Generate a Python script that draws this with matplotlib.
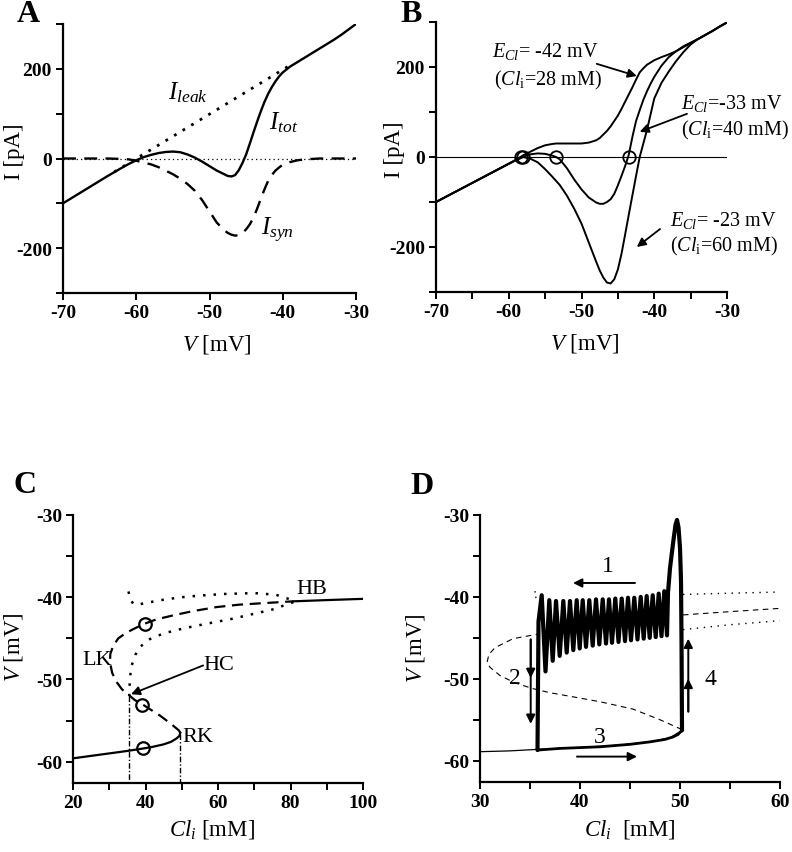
import matplotlib
matplotlib.use('Agg')
import matplotlib.pyplot as plt

plt.rcParams['font.family'] = ['Liberation Serif', 'DejaVu Serif']
plt.rcParams['mathtext.fontset'] = 'custom'
plt.rcParams['mathtext.rm'] = 'Liberation Serif'
plt.rcParams['mathtext.it'] = 'Liberation Serif:italic'
plt.rcParams['mathtext.bf'] = 'Liberation Serif:bold'
plt.rcParams['axes.unicode_minus'] = False

# ---------------- Panel A data ----------------
a_v = [-70, -68, -66, -64, -62, -61, -60, -59, -58, -57, -56, -55, -54, -53, -52, -51, -50,
       -49, -48, -47.5, -47, -46.5, -46, -45.5, -45, -44.5, -44, -43.5, -43, -42.5, -42,
       -41.5, -41, -40.5, -40, -39, -38, -37, -36, -35, -34, -33, -32, -31, -30]
a_tot = [-100, -80, -60, -40, -21, -12, -4, 3, 8, 12, 14.5, 15.5, 14, 9, 2, -7, -17,
         -27, -35, -39, -40, -37, -26, -10, 9, 33, 58, 82, 105, 126, 144,
         159, 172, 183, 192, 205, 215, 225, 235, 245, 255, 265, 276, 288, 300]
a_syn = [0, 0, 0, 0, -1, -2, -5, -9, -13, -19, -27, -35, -45, -57, -72, -93, -118,
         -143, -160, -166, -170, -172, -171, -166, -158, -147, -132, -112, -90, -69, -50,
         -37, -27, -20, -14, -8, -4, -2, -1, 0, 0, 0, 0, 0, 0]
a_leak_v = [-63, -38.5]
a_leak_i = [-30, 213]

# ---------------- Panel B data ----------------
b_v = [-70, -68, -66, -64, -62, -60, -59, -58, -57, -56, -55, -54, -53.5, -53, -52, -51, -50,
       -49, -48, -47.5, -47, -46.5, -46, -45.5, -45, -44.5, -44, -43.5, -43, -42.5, -42,
       -41.5, -41, -40.5, -40, -39, -38, -37, -36, -35, -34, -33, -32, -31, -30]
b_i28 = [-100, -83, -66, -49, -32, -15, -6, 4, 12, 20, 26, 29, 30, 30, 30, 30, 30,
         32, 37, 42, 50, 58, 68, 80, 92, 107, 123, 139, 155, 172, 188,
         197, 205, 210, 215, 222, 228, 235, 244, 253, 262, 271, 280, 290, 299]
b_i40 = [-100, -83, -66, -49, -32, -15, -7, 1, 6, 8, 7, 3, 0, -5, -25, -50, -72,
         -90, -101, -104, -104, -100, -94, -82, -63, -42, -20, 5, 45, 80, 104,
         127, 146, 163, 178, 203, 222, 235, 246, 254, 262, 271, 280, 290, 299]
b_i60 = [-100, -83, -66, -49, -32, -15, -7, 0, -4, -12, -27, -44, -53, -62, -86, -115, -148,
         -190, -232, -252, -268, -279, -281, -272, -250, -215, -172, -128, -85, -42, 0,
         30, 60, 95, 130, 165, 190, 213, 233, 250, 262, 271, 280, 290, 299]
b_fix_v = [-58.3, -58.1, -53.5, -43.5]
b_fix_i = [0, 0, 0, 0]

# ---------------- Panel C data ----------------
c_low_cl = [20, 25, 30, 35, 39.4, 42, 45, 47, 48.5, 49.3, 49.6]
c_low_v = [-59.6, -59.3, -59.0, -58.7, -58.4, -58.2, -57.9, -57.6, -57.2, -56.9, -56.5]
c_mid_cl = [49.6, 49.2, 47, 44, 41.5, 39.4, 37, 35.7, 33.5, 32, 30.8, 30.2, 30.3, 31.1,
            32.5, 34.8, 37, 39.9, 43, 47.7, 53, 59.6, 66, 73.4, 80.8]
c_mid_v = [-56.5, -56.2, -55.4, -54.4, -53.7, -53.1, -52.5, -52.0, -51.2, -50.3, -49.2,
           -47.9, -46.9, -45.9, -45.0, -44.3, -43.8, -43.2, -42.7, -42.2, -41.7, -41.2,
           -40.9, -40.7, -40.5]
c_up_cl = [80.8, 90, 100]
c_up_v = [-40.5, -40.35, -40.2]
c_lcu_cl = [35.3, 35.8, 36.6, 38, 40, 45, 50, 55, 62, 70, 76, 80.8]
c_lcu_v = [-39.3, -40.2, -40.8, -40.9, -40.7, -40.3, -40.0, -39.8, -39.6, -39.5, -39.7, -40.4]
c_lcl_cl = [80.8, 75, 64.2, 56, 50.4, 45, 41.2, 38.6, 37.2, 36.2, 35.8, 35.6, 35.5]
c_lcl_v = [-40.6, -41.5, -42.6, -43.3, -43.8, -44.4, -45.1, -46.0, -47.0, -48.3, -49.5, -50.8, -52.0]
c_hc_cl = 35.5
c_hc_v = -52.0
c_rk_cl = 49.6
c_rk_v = -56.6
c_circ_cl = [39.9, 39.1, 39.2]
c_circ_v = [-43.2, -53.1, -58.4]

# ---------------- Panel D data ----------------
d_low_cl = [30, 33, 36, 40, 44, 47, 49, 50.2]
d_low_v = [-58.9, -58.8, -58.6, -58.4, -58.1, -57.7, -57.2, -56.3]
d_uns_cl = [50.2, 48, 45.3, 42, 39.3, 37, 35.3, 33.5, 32, 31, 30.7, 30.9, 31.5, 33.3, 36]
d_uns_v = [-56.2, -55.0, -53.7, -52.8, -52.2, -51.7, -51.2, -50.5, -49.6, -48.6, -48.0,
           -47.0, -46.2, -45.1, -44.5]
d_uns2_cl = [50.3, 55, 60]
d_uns2_v = [-42.2, -41.8, -41.4]
d_lcu_cl = [50.3, 55, 60]
d_lcu_v = [-39.7, -39.55, -39.4]
d_lcl_cl = [50.3, 55, 60]
d_lcl_v = [-44.0, -43.4, -42.9]
d_lcs_cl = [35.5, 35.6]
d_lcs_v = [-39.3, -40.2]
# trajectory: bottom branch, jump, spike
d_bot_cl = [35.75, 38, 42, 45, 47, 48.5, 49.3, 49.8, 50.2]
d_bot_v = [-58.7, -58.5, -58.3, -58.0, -57.7, -57.4, -57.1, -56.8, -56.3]
d_spk_cl = [50.2, 50.15, 50.1, 50.0, 49.85, 49.7, 49.55, 49.3, 49.0, 48.8]
d_spk_v = [-56.3, -45, -38, -34, -31.5, -30.6, -31.2, -33.5, -36.5, -39.5]
# oscillations (right to left)
d_tr_cl = [48.7, 48.15, 47.57, 46.97, 46.37, 45.75, 45.1, 44.5, 43.85, 43.2, 42.6,
           41.93, 41.27, 40.6, 39.97, 39.33, 38.67, 37.97, 37.27, 36.55]
d_tr_v = [-44.7, -44.8, -44.9, -45.0, -45.1, -45.2, -45.3, -45.4, -45.5, -45.6, -45.7,
          -45.8, -45.95, -46.1, -46.3, -46.5, -46.8, -47.2, -47.8, -49.1]
d_pk_cl = [48.43, 47.87, 47.27, 46.67, 46.07, 45.43, 44.8, 44.17, 43.53, 42.9, 42.27,
           41.6, 40.93, 40.27, 39.67, 39.0, 38.33, 37.6, 36.93, 36.17]
d_pk_v = [-39.3, -39.6, -39.8, -39.9, -40.0, -40.1, -40.1, -40.2, -40.2, -40.3, -40.3,
          -40.3, -40.4, -40.4, -40.4, -40.5, -40.5, -40.5, -40.4, -39.8]
d_drop_cl = [36.17, 35.85, 35.75]
d_drop_v = [-39.8, -43.0, -58.7]

W, H = 792, 853
fig = plt.figure(figsize=(W / 100, H / 100), dpi=100)


def add_ax(l, t, r, b):
    return fig.add_axes([l / W, 1 - b / H, (r - l) / W, (b - t) / H])


TICKFS = 14
LABFS = 16.5


def style(ax):
    for s in ['top', 'right']:
        ax.spines[s].set_visible(False)
    for s in ['left', 'bottom']:
        ax.spines[s].set_linewidth(1.6)
    ax.tick_params(direction='out', length=5, width=1.4, labelsize=TICKFS, pad=3)


def set_ticks(ax, xt, xl, yt, yl):
    ax.set_xticks(xt)
    ax.set_xticklabels(xl, fontweight='bold', fontsize=TICKFS)
    ax.set_yticks(yt)
    ax.set_yticklabels(yl, fontweight='bold', fontsize=TICKFS)


# ================= Panel A =================
axA = add_ax(63, 25, 356, 294)
style(axA)
axA.set_xlim(-70, -30)
axA.set_ylim(-300, 300)
axA.axhline(0, color='black', lw=0.9, ls=(0, (1, 2.5)))
axA.plot(a_leak_v, a_leak_i, color='black', lw=2.0, ls=(0, (1, 2.6)))
axA.plot(a_v, a_syn, color='black', lw=1.7, ls=(0, (5.5, 3.5)))
axA.plot(a_v, a_tot, color='black', lw=1.7)
set_ticks(axA, [-70, -60, -50, -40, -30], ['-70', '-60', '-50', '-40', '-30'],
          [-300, -200, -100, 0, 100, 200, 300], ['', '-200', '', '0', '', '200', ''])
axA.text(-55.6, 150, r'$I_{leak}$', fontsize=18, ha='left', va='center')
axA.text(-41.9, 83, r'$I_{tot}$', fontsize=18, ha='left', va='center')
axA.text(-43.0, -158, r'$I_{syn}$', fontsize=18, ha='left', va='center')
axA.set_ylabel('I [pA]', fontsize=LABFS)
axA.yaxis.set_label_coords(-0.13, 0.53)
axA.set_xlabel(r'$V$ [mV]', fontsize=LABFS)
axA.xaxis.set_label_coords(0.525, -0.145)

# ================= Panel B =================
axB = add_ax(436, 23, 727, 293)
style(axB)
axB.set_xlim(-70, -30)
axB.set_ylim(-300, 300)
axB.axhline(0, color='black', lw=0.8)
for arr in (b_i28, b_i40, b_i60):
    axB.plot(b_v, arr, color='black', lw=1.4)
axB.plot(b_fix_v, b_fix_i, ls='none', marker='o', ms=9, mfc='none', mec='black', mew=1.3)
set_ticks(axB, list(range(-70, -29, 5)),
          ['-70', '', '-60', '', '-50', '', '-40', '', '-30'],
          [-300, -200, -100, 0, 100, 200, 300], ['', '-200', '', '0', '', '200', ''])
BFS = 14.5
axB.text(-62.3, 236, r'$E_{Cl}$= -42 mV', fontsize=BFS, ha='left', va='center')
axB.text(-62.0, 173, r'($Cl_{\mathrm{i}}$=28 mM)', fontsize=BFS, ha='left', va='center')
axB.text(-36.3, 122, r'$E_{Cl}$=-33 mV', fontsize=BFS, ha='left', va='center')
axB.text(-36.3, 62, r'($Cl_{\mathrm{i}}$=40 mM)', fontsize=BFS, ha='left', va='center')
axB.text(-37.8, -138, r'$E_{Cl}$= -23 mV', fontsize=BFS, ha='left', va='center')
axB.text(-37.8, -196, r'($Cl_{\mathrm{i}}$=60 mM)', fontsize=BFS, ha='left', va='center')
arw = dict(arrowstyle='-|>', color='black', lw=1.3, mutation_scale=13, shrinkA=0, shrinkB=0)
axB.annotate('', xy=(-42.4, 180), xytext=(-47.9, 207), arrowprops=arw)
axB.annotate('', xy=(-42.0, 56), xytext=(-35.5, 96), arrowprops=arw)
axB.annotate('', xy=(-42.4, -200), xytext=(-39.2, -160), arrowprops=arw)
axB.set_ylabel('I [pA]', fontsize=LABFS)
axB.yaxis.set_label_coords(-0.107, 0.53)
axB.set_xlabel(r'$V$ [mV]', fontsize=LABFS)
axB.xaxis.set_label_coords(0.51, -0.145)

# ================= Panel C =================
axC = add_ax(73, 516, 363, 784)
style(axC)
axC.set_xlim(20, 100)
axC.set_ylim(-62.6, -30)
axC.plot([c_hc_cl, c_hc_cl], [c_hc_v, -62.6], color='black', lw=1.0, ls=(0, (4, 1.5, 1, 1.5)))
axC.plot([c_rk_cl, c_rk_cl], [c_rk_v, -62.6], color='black', lw=1.0, ls=(0, (4, 1.5, 1, 1.5)))
axC.plot(c_low_cl, c_low_v, color='black', lw=1.6)
axC.plot(c_mid_cl, c_mid_v, color='black', lw=1.6, ls=(0, (5, 3)))
axC.plot(c_up_cl, c_up_v, color='black', lw=1.6)
axC.plot(c_lcu_cl, c_lcu_v, color='black', lw=1.8, ls=(0, (1, 3.2)))
axC.plot(c_lcl_cl, c_lcl_v, color='black', lw=1.8, ls=(0, (1, 3.2)))
axC.plot(c_circ_cl, c_circ_v, ls='none', marker='o', ms=9, mfc='none', mec='black', mew=1.6)
set_ticks(axC, list(range(20, 101, 10)),
          ['20', '', '40', '', '60', '', '80', '', '100'],
          [-60, -55, -50, -45, -40, -35, -30], ['-60', '', '-50', '', '-40', '', '-30'])
CFS = 16
axC.text(81.5, -39.0, 'HB', fontsize=CFS, ha='left', va='center')
axC.text(22.5, -47.6, 'LK', fontsize=CFS, ha='left', va='center')
axC.text(56.0, -48.2, 'HC', fontsize=CFS, ha='left', va='center')
axC.text(50.3, -56.9, 'RK', fontsize=CFS, ha='left', va='center')
axC.annotate('', xy=(36.0, -51.8), xytext=(55.9, -48.3), arrowprops=arw)
axC.set_ylabel(r'$V$ [mV]', fontsize=LABFS)
axC.yaxis.set_label_coords(-0.166, 0.51)
axC.set_xlabel(r'$Cl_i$ [mM]', fontsize=LABFS)
axC.xaxis.set_label_coords(0.48, -0.127)

# ================= Panel D =================
axD = add_ax(480, 516, 780, 783)
style(axD)
axD.set_xlim(30, 60)
axD.set_ylim(-62.6, -30)
axD.plot(d_low_cl, d_low_v, color='black', lw=0.9)
axD.plot(d_uns_cl, d_uns_v, color='black', lw=0.8, ls=(0, (5, 4)))
axD.plot(d_uns2_cl, d_uns2_v, color='black', lw=0.8, ls=(0, (5, 4)))
axD.plot(d_lcu_cl, d_lcu_v, color='black', lw=1.0, ls=(0, (1, 4)))
axD.plot(d_lcl_cl, d_lcl_v, color='black', lw=1.0, ls=(0, (1, 4)))
axD.plot(d_lcs_cl, d_lcs_v, color='black', lw=1.0, ls=(0, (1, 3)))
# trajectory: slow bottom branch (thinner), then spike, oscillations and drop
axD.plot(d_bot_cl, d_bot_v, color='black', lw=2.0, solid_capstyle='round')
traj_cl = list(d_spk_cl)
traj_v = list(d_spk_v)
for tc, tv, pc, pv in zip(d_tr_cl, d_tr_v, d_pk_cl, d_pk_v):
    traj_cl += [tc, pc]
    traj_v += [tv, pv]
traj_cl += d_drop_cl[1:]
traj_v += d_drop_v[1:]
axD.plot(traj_cl, traj_v, color='black', lw=3.0, solid_joinstyle='round',
         solid_capstyle='round')
set_ticks(axD, list(range(30, 61, 5)), ['30', '', '40', '', '50', '', '60'],
          [-60, -55, -50, -45, -40, -35, -30], ['-60', '', '-50', '', '-40', '', '-30'])
DFS = 17
arw2 = dict(arrowstyle='-|>', color='black', lw=1.4, mutation_scale=13, shrinkA=0, shrinkB=0)
axD.annotate('', xy=(39.3, -38.3), xytext=(45.5, -38.3), arrowprops=arw2)
axD.text(42.8, -36.2, '1', fontsize=DFS, ha='center', va='center')
axD.annotate('', xy=(35.07, -55.5), xytext=(35.07, -45.2), arrowprops=arw2)
axD.annotate('', xy=(35.07, -49.9), xytext=(35.07, -45.2), arrowprops=arw2)
axD.text(33.5, -49.8, '2', fontsize=DFS, ha='center', va='center')
axD.annotate('', xy=(45.7, -59.5), xytext=(39.7, -59.5), arrowprops=arw2)
axD.text(42.0, -57.1, '3', fontsize=DFS, ha='center', va='center')
axD.annotate('', xy=(50.83, -45.1), xytext=(50.83, -54.0), arrowprops=arw2)
axD.annotate('', xy=(50.83, -50.0), xytext=(50.83, -54.0), arrowprops=arw2)
axD.text(53.0, -50.0, '4', fontsize=DFS, ha='center', va='center')
axD.set_ylabel(r'$V$ [mV]', fontsize=LABFS)
axD.yaxis.set_label_coords(-0.177, 0.505)
axD.set_xlabel(r'$Cl_i$  [mM]', fontsize=LABFS)
axD.xaxis.set_label_coords(0.5, -0.131)

# panel letters
for lab, x, y in [('A', 28, 15), ('B', 411, 14), ('C', 25, 486), ('D', 422, 487)]:
    fig.text(x / W, 1 - y / H, lab, fontsize=23, fontweight='bold', ha='center', va='center')

fig.savefig('out.png', dpi=100)
